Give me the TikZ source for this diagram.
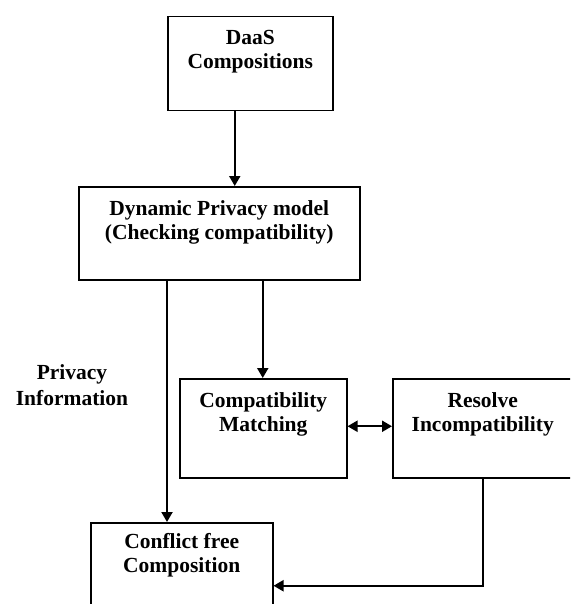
\documentclass[tikz,border=0pt]{standalone}
\usepackage{fontspec}
\setmainfont{Liberation Serif}
\usepackage{tikz}
\usetikzlibrary{arrows.meta,positioning}

\newcommand{\boxtext}[3]{\parbox[c][#2][t]{#1}{\centering\vspace*{14pt}#3}}

\begin{document}
\begin{tikzpicture}[x=1pt, y=-1pt]
			\tikzstyle{Box}		= [draw, line width=1.5pt, inner sep=0pt, anchor=north west, font=\fontsize{21.5}{24}\selectfont\bfseries]
			\tikzstyle{Label}	= [font=\fontsize{21.5}{26}\selectfont\bfseries, align=center]
			\tikzstyle{Flow}	= [line width=2pt, -{Triangle[length=10pt, width=11pt]}]
			\tikzstyle{Both}	= [line width=2pt, {Triangle[length=10pt, width=11pt]}-{Triangle[length=10pt, width=11pt]}]

			\useasboundingbox (0,0) rectangle (570,604);
			\clip (0,0) rectangle (570,604);

			\node (daas) at (167,16) [Box] {\boxtext{165pt}{94pt}{DaaS\\Compositions}};
			\node (dyn) at (78,186) [Box] {\boxtext{281pt}{93pt}{Dynamic Privacy model\\(Checking compatibility)}};
			\node (match) at (179,378) [Box] {\boxtext{167pt}{99pt}{Compatibility\\Matching}};
			\node (resolve) at (392,378) [Box] {\boxtext{180pt}{99pt}{Resolve\\Incompatibility}};
			\node (conflict) at (90,522) [Box] {\boxtext{182pt}{95pt}{\vspace*{-3pt}Conflict free\\Composition}};
			\node (info) at (72,385) [Label] {Privacy\\Information};

			\draw [Flow] ([xshift=-15.5pt]daas.south) to ([xshift=-15.5pt]daas.south |- dyn.north);
			\draw [Flow] ([xshift=-0.5pt]dyn.south -| match.north) to ([xshift=-0.5pt]match.north);
			\draw [Flow] ([xshift=89pt]dyn.south west) to ([xshift=89pt]dyn.south west |- conflict.north);
			\draw [Both] ([yshift=2pt]match.east) to ([yshift=2pt]resolve.west);
			\draw [Flow] (resolve.south) |- ([yshift=-15.5pt]conflict.east);
		\end{tikzpicture}
\end{document}
